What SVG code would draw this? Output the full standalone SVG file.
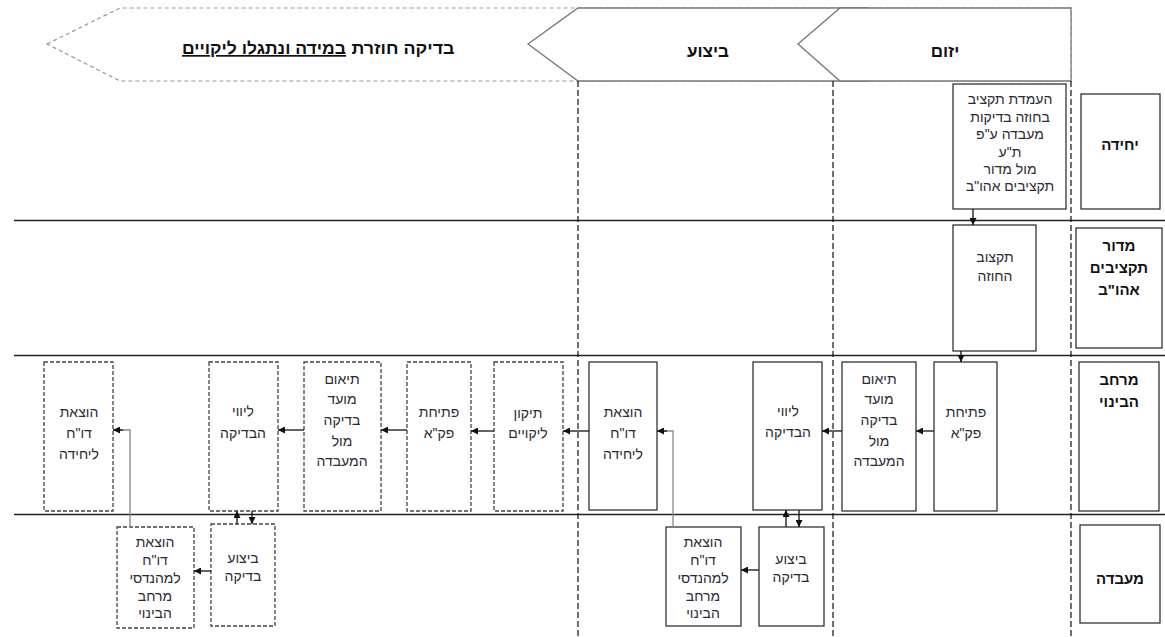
<svg xmlns="http://www.w3.org/2000/svg" width="1165" height="637" viewBox="0 0 1165 637">
<style>
text{font-family:"Liberation Sans","DejaVu Sans",Arial,sans-serif;direction:rtl;text-anchor:middle;fill:#2b2b33}
.t{font-size:14px}
.b{font-size:15px;font-weight:bold;fill:#111}
.h{font-size:17px;font-weight:bold;fill:#111}
.box{fill:#fff;stroke:#333;stroke-width:1.3}
.dbox{fill:#fff;stroke:#444;stroke-width:1.3;stroke-dasharray:4 2}
.lane{stroke:#222;stroke-width:1.5;fill:none}
.vd{stroke:#111;stroke-width:1.2;stroke-dasharray:6 3;fill:none}
.c{stroke:#111;stroke-width:1.3;fill:none}
.g{stroke:#888;stroke-width:1.3;fill:none}
</style>
<defs>
<marker id="ah" viewBox="0 0 10 10" refX="10" refY="5" markerWidth="7" markerHeight="7" markerUnits="userSpaceOnUse" orient="auto">
<path d="M0,0 L10,5 L0,10 z" fill="#111"/>
</marker>
</defs>
<rect width="1165" height="637" fill="#fff"/>

<g id="phases">
<polygon points="47,44 120,8 1071,8 1071,81 120,81" fill="#fff" stroke="#999" stroke-width="1.2" stroke-dasharray="4 3"/>
<polygon points="528,44 578,8 868,8 868,81 578,81" fill="#fff" stroke="#777" stroke-width="1.3"/>
<polygon points="798,44 840,8 1071,8 1071,81 840,81" fill="#fff" stroke="#777" stroke-width="1.3"/>
<text class="h" x="403" y="54" textLength="103" lengthAdjust="spacingAndGlyphs">בדיקה חוזרת</text>
<text class="h" x="264" y="54" textLength="164" lengthAdjust="spacingAndGlyphs" text-decoration="underline">במידה ונתגלו ליקויים</text>
<text class="h" x="708" y="57">ביצוע</text>
<text class="h" x="945" y="57">יזום</text>
</g>

<g id="lanes">
<line class="lane" x1="14" y1="220.5" x2="1165" y2="220.5"/>
<line class="lane" x1="14" y1="355.5" x2="1165" y2="355.5"/>
<line class="lane" x1="14" y1="514.5" x2="1165" y2="514.5"/>
<line class="vd" x1="578" y1="81" x2="578" y2="637"/>
<line class="vd" x1="833" y1="81" x2="833" y2="637"/>
<line class="vd" x1="1071" y1="81" x2="1071" y2="637"/>
</g>

<g id="lane-yechida">
<rect class="box" x="1081" y="94" width="79" height="115"/>
<text class="b" x="1120" y="150">יחידה</text>
</g>
<g id="lane-mador">
<rect class="box" x="1076" y="228" width="86" height="120"/>
<text class="b" x="1119" y="251">מדור</text>
<text class="b" x="1119" y="273">תקציבים</text>
<text class="b" x="1119" y="295">אהו"ב</text>
</g>
<g id="lane-merchav">
<rect class="box" x="1079" y="362" width="80" height="149"/>
<text class="b" x="1119" y="385">מרחב</text>
<text class="b" x="1119" y="407">הבינוי</text>
</g>
<g id="lane-maabada">
<rect class="box" x="1080" y="525" width="80" height="98"/>
<text class="b" x="1120" y="584">מעבדה</text>
</g>

<g id="n-budget">
<rect class="box" x="953" y="84" width="113" height="125"/>
<text class="t" x="1010" y="104">העמדת תקציב</text>
<text class="t" x="1010" y="122">בחוזה בדיקות</text>
<text class="t" x="1010" y="139">מעבדה ע"פ</text>
<text class="t" x="1010" y="157">ת"ע</text>
<text class="t" x="1010" y="174">מול מדור</text>
<text class="t" x="1010" y="191">תקציבים אהו"ב</text>
</g>
<g id="n-contract">
<rect class="box" x="953" y="225" width="83" height="126"/>
<text class="t" x="995" y="262">תקצוב</text>
<text class="t" x="995" y="281">החוזה</text>
</g>
<g id="n-open1">
<rect class="box" x="934" y="362" width="63" height="149"/>
<text class="t" x="966" y="417">פתיחת</text>
<text class="t" x="966" y="438">פק"א</text>
</g>
<g id="n-coord1">
<rect class="box" x="842" y="362" width="74" height="149"/>
<text class="t" x="879" y="384">תיאום</text>
<text class="t" x="879" y="404">מועד</text>
<text class="t" x="879" y="425">בדיקה</text>
<text class="t" x="879" y="446">מול</text>
<text class="t" x="879" y="466">המעבדה</text>
</g>
<g id="n-escort1">
<rect class="box" x="753" y="362" width="69" height="148"/>
<text class="t" x="788" y="416">ליווי</text>
<text class="t" x="788" y="437">הבדיקה</text>
</g>
<g id="n-report1">
<rect class="box" x="589" y="362" width="68" height="148"/>
<text class="t" x="623" y="417">הוצאת</text>
<text class="t" x="623" y="438">דו"ח</text>
<text class="t" x="623" y="459">ליחידה</text>
</g>
<g id="n-test1">
<rect class="box" x="759" y="527" width="65" height="99"/>
<text class="t" x="791" y="564">ביצוע</text>
<text class="t" x="791" y="582">בדיקה</text>
</g>
<g id="n-labreport1">
<rect class="box" x="666" y="527" width="75" height="99"/>
<text class="t" x="703" y="547">הוצאת</text>
<text class="t" x="703" y="565">דו"ח</text>
<text class="t" x="703" y="583">למהנדסי</text>
<text class="t" x="703" y="601">מרחב</text>
<text class="t" x="703" y="618">הבינוי</text>
</g>

<g id="n-fix">
<rect class="dbox" x="494" y="362" width="69" height="149"/>
<text class="t" x="528" y="418">תיקון</text>
<text class="t" x="528" y="438">ליקויים</text>
</g>
<g id="n-open2">
<rect class="dbox" x="407" y="362" width="64" height="149"/>
<text class="t" x="439" y="417">פתיחת</text>
<text class="t" x="439" y="438">פק"א</text>
</g>
<g id="n-coord2">
<rect class="dbox" x="304" y="362" width="77" height="149"/>
<text class="t" x="342" y="384">תיאום</text>
<text class="t" x="342" y="404">מועד</text>
<text class="t" x="342" y="425">בדיקה</text>
<text class="t" x="342" y="446">מול</text>
<text class="t" x="342" y="466">המעבדה</text>
</g>
<g id="n-escort2">
<rect class="dbox" x="209" y="362" width="69" height="149"/>
<text class="t" x="243" y="416">ליווי</text>
<text class="t" x="243" y="438">הבדיקה</text>
</g>
<g id="n-report2">
<rect class="dbox" x="44" y="362" width="69" height="149"/>
<text class="t" x="79" y="417">הוצאת</text>
<text class="t" x="79" y="438">דו"ח</text>
<text class="t" x="79" y="459">ליחידה</text>
</g>
<g id="n-test2">
<rect class="dbox" x="211" y="524" width="64" height="102"/>
<text class="t" x="243" y="563">ביצוע</text>
<text class="t" x="243" y="581">בדיקה</text>
</g>
<g id="n-labreport2">
<rect class="dbox" x="117" y="527" width="77" height="101"/>
<text class="t" x="155" y="547">הוצאת</text>
<text class="t" x="155" y="565">דו"ח</text>
<text class="t" x="155" y="583">למהנדסי</text>
<text class="t" x="155" y="601">מרחב</text>
<text class="t" x="155" y="618">הבינוי</text>
</g>

<g id="connectors">
<line class="c" x1="973" y1="209" x2="973" y2="225" marker-end="url(#ah)"/>
<line class="c" x1="961" y1="351" x2="961" y2="362" marker-end="url(#ah)"/>
<line class="c" x1="934" y1="431" x2="916" y2="431" marker-end="url(#ah)"/>
<line class="c" x1="842" y1="431" x2="822" y2="431" marker-end="url(#ah)"/>
<line class="c" x1="786" y1="527" x2="786" y2="510" marker-end="url(#ah)"/>
<line class="c" x1="799" y1="510" x2="799" y2="527" marker-end="url(#ah)"/>
<line class="c" x1="759" y1="570" x2="741" y2="570" marker-end="url(#ah)"/>
<polyline class="g" points="673,527 673,431 657,431"/>
<line class="c" x1="667" y1="431" x2="657" y2="431" marker-end="url(#ah)"/>
<line class="c" x1="589" y1="431" x2="563" y2="431" marker-end="url(#ah)"/>
<line class="c" x1="494" y1="431" x2="471" y2="431" marker-end="url(#ah)"/>
<line class="c" x1="407" y1="430" x2="381" y2="430" marker-end="url(#ah)"/>
<line class="c" x1="304" y1="430" x2="278" y2="430" marker-end="url(#ah)"/>
<line class="c" x1="237" y1="524" x2="237" y2="511" marker-end="url(#ah)"/>
<line class="c" x1="252" y1="511" x2="252" y2="524" marker-end="url(#ah)"/>
<line class="c" x1="211" y1="571" x2="194" y2="571" marker-end="url(#ah)"/>
<polyline class="g" points="130,527 130,430 113,430"/>
<line class="c" x1="123" y1="430" x2="113" y2="430" marker-end="url(#ah)"/>
</g>
</svg>
